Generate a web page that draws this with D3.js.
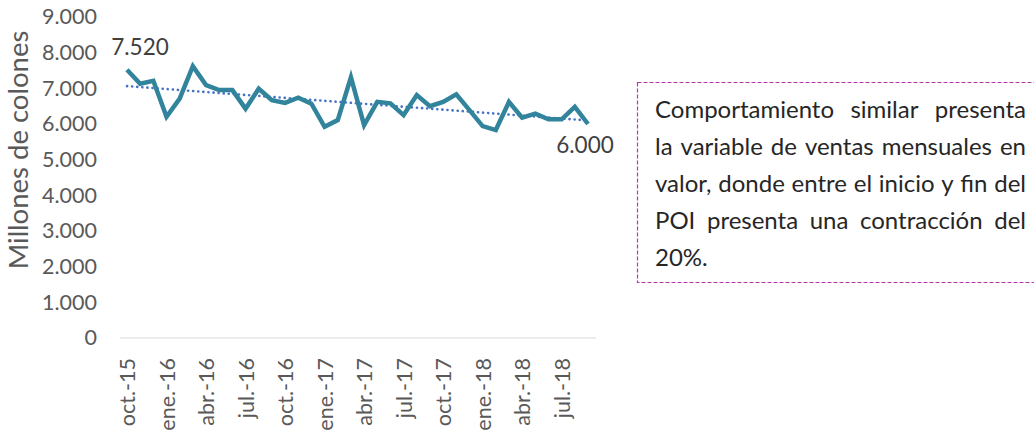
<!DOCTYPE html>
<html lang="es">
  <head>
    <meta charset="UTF-8" />
    <title>Ventas mensuales</title>
    <script src="https://d3js.org/d3.v7.min.js"></script>
    <style>
      body { margin: 0; background: #fff; }
      text { font-family: Lato, "Noto Sans", sans-serif; }
    </style>
  </head>
  <body>
    <svg width="1034" height="432"></svg>
    <script>
      // meses oct-15 .. sep-18
      var months = [
        "oct.-15", "nov.-15", "dic.-15", "ene.-16", "feb.-16", "mar.-16",
        "abr.-16", "may.-16", "jun.-16", "jul.-16", "ago.-16", "sep.-16",
        "oct.-16", "nov.-16", "dic.-16", "ene.-17", "feb.-17", "mar.-17",
        "abr.-17", "may.-17", "jun.-17", "jul.-17", "ago.-17", "sep.-17",
        "oct.-17", "nov.-17", "dic.-17", "ene.-18", "feb.-18", "mar.-18",
        "abr.-18", "may.-18", "jun.-18", "jul.-18", "ago.-18", "sep.-18"
      ];
      // millones de colones
      var ventas = [
        7520, 7130, 7210, 6200, 6710, 7620,
        7090, 6950, 6950, 6430, 6990, 6670,
        6590, 6740, 6570, 5920, 6110, 7310,
        5970, 6620, 6580, 6250, 6810, 6500,
        6620, 6830, 6390, 5940, 5830, 6620,
        6180, 6290, 6130, 6130, 6480, 6000
      ];
      var yTicks = [0, 1000, 2000, 3000, 4000, 5000, 6000, 7000, 8000, 9000];
      var xTickLabels = months.filter(function (d, i) { return i % 3 === 0; });
      var noteLines = [
        "Comportamiento similar presenta",
        "la variable de ventas mensuales en",
        "valor, donde entre el inicio y fin del",
        "POI presenta una contracción del",
        "20%."
      ];

      var svg = d3.select("svg");
      var locale = d3.formatLocale({ decimal: ",", thousands: ".", grouping: [3], currency: ["", ""] });
      var fmt = locale.format(",d");

      var x = d3.scalePoint().domain(months).range([127, 588]);
      var y = d3.scaleLinear().domain([0, 9000]).range([338, 17]);

      // linea base
      svg.append("line")
        .attr("x1", 120).attr("x2", 596)
        .attr("y1", y(0)).attr("y2", y(0))
        .attr("stroke", "#d9d9d9").attr("stroke-width", 1.2);

      // eje y
      var yAxis = svg.append("g")
        .attr("transform", "translate(97,0)")
        .call(d3.axisLeft(y).tickValues(yTicks).tickFormat(fmt).tickSize(0).tickPadding(0));
      yAxis.select(".domain").remove();
      yAxis.selectAll("text")
        .attr("fill", "#595959")
        .style("font-size", "21.5px")
        .style("font-family", "Lato, sans-serif");

      svg.append("text")
        .attr("transform", "translate(28,150) rotate(-90)")
        .attr("text-anchor", "middle")
        .attr("fill", "#595959")
        .style("font-size", "27.5px")
        .text("Millones de colones");

      // eje x
      var xAxis = svg.append("g")
        .attr("transform", "translate(0," + y(0) + ")")
        .call(d3.axisBottom(x).tickValues(xTickLabels).tickSize(0).tickPadding(0));
      xAxis.select(".domain").remove();
      xAxis.selectAll("text")
        .attr("fill", "#595959")
        .attr("transform", "rotate(-90)")
        .attr("text-anchor", "end")
        .attr("x", -20)
        .attr("y", 0)
        .attr("dy", "0.35em")
        .style("font-size", "21.5px")
        .style("font-family", "Lato, sans-serif");

      // tendencia lineal
      var n = ventas.length;
      var mx = d3.mean(ventas, function (d, i) { return i; });
      var my = d3.mean(ventas);
      var sxy = d3.sum(ventas, function (d, i) { return (i - mx) * (d - my); });
      var sxx = d3.sum(ventas, function (d, i) { return (i - mx) * (i - mx); });
      var slope = sxy / sxx, icpt = my - slope * mx;

      svg.append("line")
        .attr("x1", x(months[0])).attr("y1", y(icpt))
        .attr("x2", x(months[n - 1])).attr("y2", y(icpt + slope * (n - 1)))
        .attr("stroke", "#4472c4")
        .attr("stroke-width", 2.6)
        .attr("stroke-linecap", "round")
        .attr("stroke-dasharray", "0.1,5");

      // serie
      var line = d3.line()
        .x(function (d, i) { return x(months[i]); })
        .y(function (d) { return y(d); });

      svg.append("path")
        .datum(ventas)
        .attr("fill", "none")
        .attr("stroke", "#31849b")
        .attr("stroke-width", 4.5)
        .attr("stroke-linejoin", "miter")
        .attr("d", line);

      // etiquetas
      svg.append("text")
        .attr("x", x(months[0]) + 13).attr("y", y(ventas[0]) - 15)
        .attr("text-anchor", "middle")
        .attr("fill", "#404040")
        .style("font-size", "22.5px")
        .text(fmt(ventas[0]));

      svg.append("text")
        .attr("x", x(months[n - 1]) - 3).attr("y", y(ventas[n - 1]) + 29)
        .attr("text-anchor", "middle")
        .attr("fill", "#404040")
        .style("font-size", "22.5px")
        .text(fmt(ventas[n - 1]));

      // cuadro de texto
      svg.append("rect")
        .attr("x", 637.5).attr("y", 82.5)
        .attr("width", 420).attr("height", 200)
        .attr("fill", "none")
        .attr("stroke", "#b53aa8")
        .attr("stroke-width", 1.2)
        .attr("stroke-dasharray", "4,2");

      var boxLeft = 655, boxRight = 1026;
      var tg = svg.append("g").attr("fill", "#262626").style("font-size", "24px");
      noteLines.forEach(function (ln, li) {
        var words = ln.split(" ");
        var by = 118 + li * 37;
        var nodes = words.map(function (w) {
          return tg.append("text").attr("y", by).text(w);
        });
        var widths = nodes.map(function (t) { return t.node().getComputedTextLength(); });
        var last = li === noteLines.length - 1;
        var gap = last || words.length < 2 ? 6 :
          (boxRight - boxLeft - d3.sum(widths)) / (words.length - 1);
        var k = 1;
        if (gap < 4) {
          k = (boxRight - boxLeft - 4 * (words.length - 1)) / d3.sum(widths);
          gap = 4;
        }
        var cx = boxLeft;
        nodes.forEach(function (t, i) {
          var w = widths[i] * k;
          t.attr("x", cx);
          if (k !== 1) t.attr("textLength", w).attr("lengthAdjust", "spacingAndGlyphs");
          cx += w + gap;
        });
      });
    </script>
  </body>
</html>
